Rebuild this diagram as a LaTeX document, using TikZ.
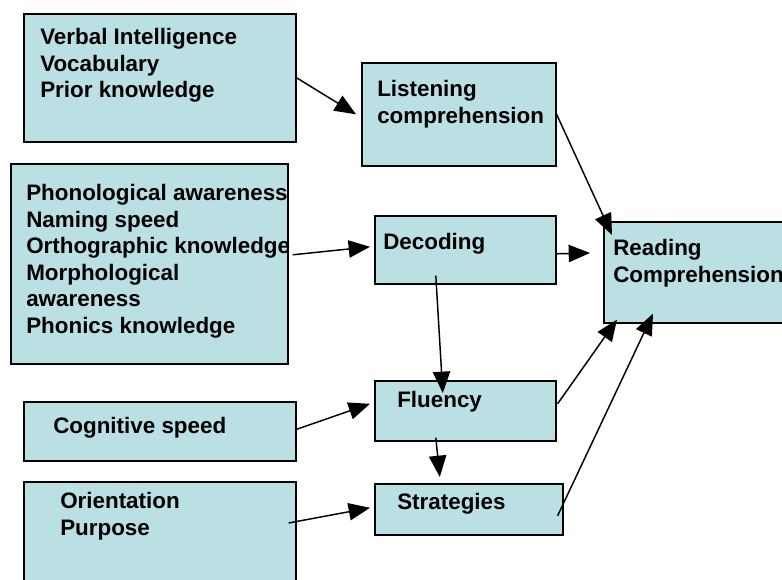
\documentclass[tikz,border=0pt]{standalone}
\usepackage{fontspec}
\setmainfont{Liberation Sans}
\usetikzlibrary{arrows.meta}
\definecolor{boxfill}{RGB}{186,224,227}

\begin{document}
\begin{tikzpicture}[x=0.75pt,y=-0.75pt,
  box/.style={draw,line width=1.2pt,fill=boxfill,anchor=north west,inner sep=0},
  txt/.style={anchor=north west,align=left,inner sep=0,font=\fontsize{16.8}{19.9}\selectfont\bfseries},
  arr/.style={line width=1.1pt,-{Triangle[length=16pt,width=13pt]}}]
\useasboundingbox (0,0) rectangle (782,580);

    \node [box,minimum width=204pt,minimum height=96pt] (verbal) at (23,13) {};
    \node [box,minimum width=207.75pt,minimum height=150pt] (phon) at (10,163) {};
    \node [box,minimum width=204pt,minimum height=44.25pt] (cog) at (23,401) {};
    \node [box,minimum width=204pt,minimum height=90pt] (orient) at (23,481) {};
    \node [box,minimum width=145.5pt,minimum height=77.25pt] (listen) at (361,62) {};
    \node [box,minimum width=135.75pt,minimum height=51pt] (decode) at (374,215) {};
    \node [box,minimum width=135.75pt,minimum height=45pt] (fluency) at (374,380) {};
    \node [box,minimum width=141pt,minimum height=38.25pt] (strat) at (374,483) {};
    \node [box,minimum width=150pt,minimum height=75.75pt] (reading) at (603,221) {};

    \node [txt] (verbaltxt) at (40,28) {Verbal Intelligence\\Vocabulary\\Prior knowledge};
    \node [txt] (phontxt) at (26,184) {Phonological awareness\\Naming speed\\Orthographic knowledge\\Morphological\\awareness\\Phonics knowledge};
    \node [txt] (cogtxt) at (53,417) {Cognitive speed};
    \node [txt] (orienttxt) at (60,492) {Orientation\\Purpose};
    \node [txt] (listentxt) at (377,80) {Listening\\comprehension};
    \node [txt] (decodetxt) at (383,233) {Decoding};
    \node [txt] (fluencytxt) at (397,391) {Fluency};
    \node [txt] (strattxt) at (397,493) {Strategies};
    \node [txt] (readingtxt) at (613,239) {Reading\\Comprehension};

    \draw [arr] (verbal.east) -- ([shift={(-5,0)}]listen.west);
    \draw [arr] ([shift={(4,-9)}]phon.east) -- ([shift={(-4,-3)}]decode.west);
    \draw [arr] (listen.east) -- ([shift={(9,14)}]reading.north west);
    \draw [arr] ([shift={(0,4)}]decode.east) -- ([shift={(-13,32)}]reading.north west);
    \draw [arr] ([shift={(-29.5,-9)}]decode.south) -- ([shift={(-22.5,13)}]fluency.north);
    \draw [arr] ([shift={(0,-2)}]cog.east) -- ([shift={(-4,-7)}]fluency.west);
    \draw [arr] ([shift={(-29.5,-4)}]fluency.south) -- ([shift={(-29,-6)}]strat.north);
    \draw [arr] ([shift={(-8,42)}]orient.north east) -- ([shift={(-4,-1.5)}]strat.west);
    \draw [arr] ([shift={(1,-7)}]fluency.east) -- ([shift={(14,-4)}]reading.south west);
    \draw [arr] ([shift={(-6,6.5)}]strat.east) -- ([shift={(50,-10)}]reading.south west);

\end{tikzpicture}
\end{document}
